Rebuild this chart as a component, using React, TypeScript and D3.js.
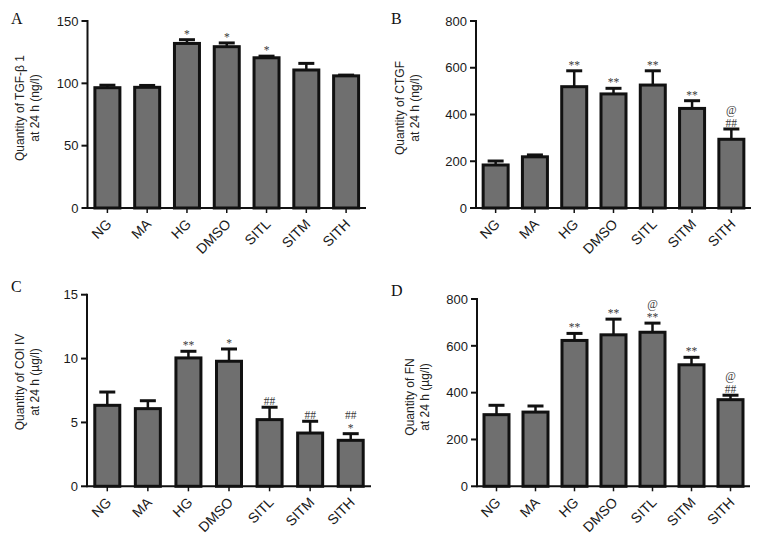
import React from "react";
import * as d3 from "d3";

const categories = ["NG", "MA", "HG", "DMSO", "SITL", "SITM", "SITH"];

const tgfMean = [96.5, 96.8, 132, 129.4, 120.5, 110.7, 106.0];
const tgfSem = [2.0, 1.5, 3.0, 3.0, 1.3, 5.3, 0.6];
const tgfSig = [[], [], ["*"], ["*"], ["*"], [], []];
const tgfTicks = [0, 50, 100, 150];

const ctgfMean = [184, 219, 519, 488, 526, 426, 294];
const ctgfSem = [17, 8, 68, 24, 61, 33, 44];
const ctgfSig = [[], [], ["**"], ["**"], ["**"], ["**"], ["##", "@"]];
const ctgfTicks = [0, 200, 400, 600, 800];

const colMean = [6.34, 6.08, 10.05, 9.79, 5.22, 4.17, 3.6];
const colSem = [1.04, 0.62, 0.52, 0.96, 0.97, 0.92, 0.52];
const colSig = [[], [], ["**"], ["*"], ["##"], ["##"], ["*", "##"]];
const colTicks = [0, 5, 10, 15];

const fnMean = [306, 317, 623, 647, 658, 519, 370];
const fnSem = [40, 26, 30, 67, 39, 32, 19];
const fnSig = [[], [], ["**"], ["**"], ["**", "@"], ["**"], ["##", "@"]];
const fnTicks = [0, 200, 400, 600, 800];

type PanelProps = {
  letter: string;
  letterX: number;
  letterY: number;
  x0: number;
  x1: number;
  y0: number;
  y1: number;
  ticks: number[];
  mean: number[];
  sem: number[];
  sig: string[][];
  label1: string;
  label2: string;
  labX: number;
  labY: number;
};

const sans = "'Liberation Sans', Arial, Helvetica, sans-serif";
const serif = "'Liberation Serif', 'Times New Roman', serif";

function Panel(p: PanelProps) {
  const x = d3.scaleBand<string>().domain(categories).range([p.x0, p.x1]).padding(0);
  const ymax = p.ticks[p.ticks.length - 1];
  const y = d3.scaleLinear().domain([0, ymax]).range([p.y0, p.y1]);
  const bw = 25;
  const capW = 16;
  return (
    <g>
      <text x={p.letterX} y={p.letterY} fontFamily={serif} fontSize={16} fill="#111">
        {p.letter}
      </text>
      <g transform={`translate(${p.labX},${p.labY}) rotate(-90)`} fontFamily={sans} fontSize={12} fill="#222" textAnchor="middle">
        <text x={0} y={0}>{p.label1}</text>
        <text x={0} y={15}>{p.label2}</text>
      </g>
      {categories.map((c, i) => {
        const cx = (x(c) as number) + x.bandwidth() / 2;
        const top = y(p.mean[i]);
        const et = y(p.mean[i] + p.sem[i]);
        return (
          <g key={c}>
            <line x1={cx} x2={cx} y1={top} y2={et} stroke="#111" strokeWidth={2.5} />
            <line x1={cx - capW / 2} x2={cx + capW / 2} y1={et} y2={et} stroke="#111" strokeWidth={3} />
            <rect x={cx - bw / 2} y={top} width={bw} height={p.y0 - top} fill="#6f6f6f" stroke="#111" strokeWidth={3} />
            {p.sig[i].map((s, k) => (
              <text key={k} x={cx} y={et - 2 - k * 13} textAnchor="middle" fontFamily={serif} fontSize={11.5} fill="#3a3a3a">
                {s}
              </text>
            ))}
            <line x1={cx} x2={cx} y1={p.y0} y2={p.y0 + 5} stroke="#111" strokeWidth={1.5} />
            <text
              transform={`translate(${cx + 5},${p.y0 + 17}) rotate(-45)`}
              textAnchor="end"
              fontFamily={sans}
              fontSize={14}
              fill="#1a1a1a"
            >
              {c}
            </text>
          </g>
        );
      })}
      <line x1={p.x0} x2={p.x1} y1={p.y0} y2={p.y0} stroke="#111" strokeWidth={2} />
      <line x1={p.x0} x2={p.x0} y1={p.y1 - 1} y2={p.y0 + 1} stroke="#111" strokeWidth={2} />
      {p.ticks.map((t) => (
        <g key={t}>
          <line x1={p.x0 - 6} x2={p.x0} y1={y(t)} y2={y(t)} stroke="#111" strokeWidth={2} />
          <text x={p.x0 - 9} y={y(t)} dy="0.36em" textAnchor="end" fontFamily={sans} fontSize={13} fill="#1a1a1a">
            {t}
          </text>
        </g>
      ))}
    </g>
  );
}

export default function App() {
  return (
    <svg width={761} height={538} style={{ position: "absolute", left: 0, top: 0, background: "#fff" }}>
      <rect x={0} y={0} width={761} height={538} fill="#fff" />
      <Panel letter="A" letterX={11} letterY={24} x0={87.5} x1={366} y0={208} y1={21} ticks={tgfTicks}
        mean={tgfMean} sem={tgfSem} sig={tgfSig} label1="Quantity of TGF-β 1" label2="at 24 h (ng/l)" labX={24} labY={108} />
      <Panel letter="B" letterX={391} letterY={24} x0={476} x1={751} y0={208} y1={21} ticks={ctgfTicks}
        mean={ctgfMean} sem={ctgfSem} sig={ctgfSig} label1="Quantity of CTGF" label2="at 24 h (ng/l)" labX={404} labY={108} />
      <Panel letter="C" letterX={11} letterY={292} x0={87} x1={371} y0={486.3} y1={294.7} ticks={colTicks}
        mean={colMean} sem={colSem} sig={colSig} label1="Quantity of COl IV" label2="at 24 h (µg/l)" labX={24} labY={382} />
      <Panel letter="D" letterX={391} letterY={296} x0={477} x1={750} y0={486.3} y1={299} ticks={fnTicks}
        mean={fnMean} sem={fnSem} sig={fnSig} label1="Quantity of FN" label2="at 24 h (µg/l)" labX={414} labY={397} />
    </svg>
  );
}
